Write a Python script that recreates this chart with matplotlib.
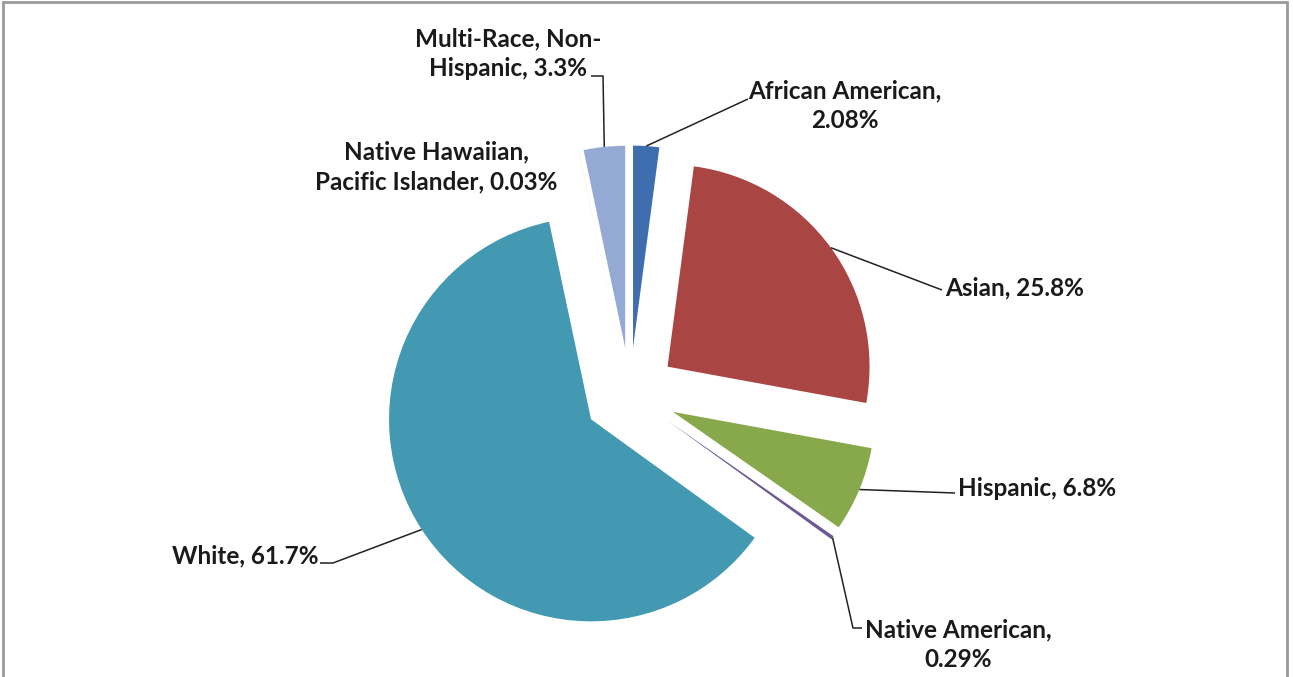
import numpy as np
import matplotlib.pyplot as plt
from matplotlib.patches import Rectangle

W, H = 1293, 677

groups = ["African American", "Asian", "Hispanic", "Native American",
          "White", "Native Hawaiian, Pacific Islander", "Multi-Race, Non-Hispanic"]
shares = [2.08, 25.8, 6.8, 0.29, 61.7, 0.03, 3.3]
slice_colors = ["#3F6EAF", "#A94542", "#87A84B", "#6E5993",
                "#4299B1", "#F3E2D2", "#94AAD5"]

# label text, text position (px from top-left), alignment, elbow points of the leader
label_lines = {
    "African American": ("African American,\n2.08%", (845, 106), "center", [(748, 99)]),
    "Asian": ("Asian, 25.8%", (945, 288), "left", [(942, 290)]),
    "Hispanic": ("Hispanic, 6.8%", (958, 489), "left", [(955, 493)]),
    "Native American": ("Native American,\n0.29%", (958, 645), "center", [(853, 628), (862, 628)]),
    "White": ("White, 61.7%", (318, 556), "right", [(333, 563), (320, 563)]),
    "Native Hawaiian, Pacific Islander": ("Native Hawaiian,\nPacific Islander, 0.03%", (436, 167), "center", []),
    "Multi-Race, Non-Hispanic": ("Multi-Race, Non-\nHispanic, 3.3%", (508, 54), "center", [(603, 76), (591, 76)]),
}


def px(x, y):
    return x, H - y


plt.rcParams['font.family'] = ['Lato', 'DejaVu Sans']

fig = plt.figure(figsize=(W / 100, H / 100), dpi=100)
ax = fig.add_axes([0, 0, 1, 1])

radius = 202
# every slice pulled out by roughly a quarter of the radius
wedges, _ = ax.pie(shares, colors=slice_colors, explode=[0.23 * radius] * len(shares),
                   startangle=90, counterclock=False, radius=radius,
                   center=px(630, 394), wedgeprops=dict(linewidth=0))

ax.set_xlim(0, W)
ax.set_ylim(0, H)
ax.set_aspect('equal')
ax.axis('off')

for name, w in zip(groups, wedges):
    text, pos, ha, elbows = label_lines[name]
    mid = np.deg2rad((w.theta1 + w.theta2) / 2)
    cx, cy = w.center
    anchor = (cx + w.r * np.cos(mid), cy + w.r * np.sin(mid))
    if elbows:
        pts = [anchor] + [px(*p) for p in elbows]
        xs, ys = zip(*pts)
        ax.plot(xs, ys, color="#222222", linewidth=1.1, solid_capstyle='butt')
    ax.text(*px(*pos), text, ha=ha, va='center', multialignment='center',
            fontsize=17.5, fontweight='bold', color="#1a1a1a", linespacing=1.35)

# chart area border
fig.patches.append(Rectangle((3, -10), 1284, H + 9 - 1, transform=None,
                             fill=False, edgecolor="#9a9a9a", linewidth=2))

fig.savefig("out.png", dpi=100)
